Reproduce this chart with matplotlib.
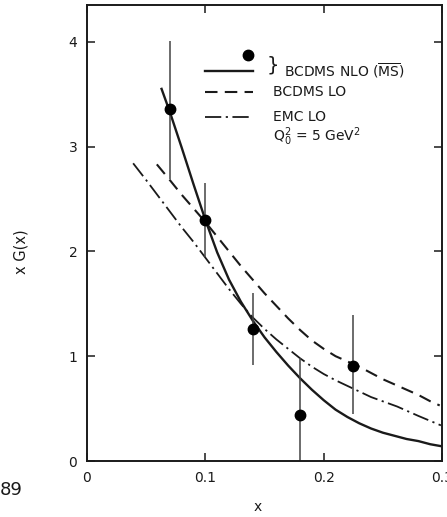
import matplotlib
matplotlib.use('Agg')
import matplotlib.pyplot as plt

# BCDMS data points (x, xG(x)) with error bar ends
x_pts = [0.070, 0.100, 0.140, 0.180, 0.225]
y_pts = [3.36, 2.30, 1.26, 0.44, 0.91]
err_lo = [2.69, 1.95, 0.92, 0.0, 0.45]
err_hi = [4.01, 2.65, 1.60, 0.98, 1.39]

# BCDMS NLO (MS-bar) curve
x_nlo = [0.063, 0.07, 0.08, 0.09, 0.10, 0.11, 0.12, 0.13, 0.14, 0.15, 0.16, 0.17,
         0.18, 0.19, 0.20, 0.21, 0.22, 0.23, 0.24, 0.25, 0.26, 0.27, 0.28, 0.29, 0.30]
y_nlo = [3.55, 3.33, 2.99, 2.64, 2.30, 1.99, 1.73, 1.52, 1.34, 1.18, 1.04, 0.91,
         0.79, 0.68, 0.58, 0.49, 0.42, 0.36, 0.31, 0.27, 0.24, 0.21, 0.19, 0.16, 0.14]

# BCDMS LO curve
x_lo = [0.059, 0.07, 0.08, 0.09, 0.10, 0.11, 0.12, 0.13, 0.14, 0.15, 0.16, 0.17,
        0.18, 0.19, 0.20, 0.21, 0.22, 0.23, 0.24, 0.25, 0.26, 0.27, 0.28, 0.29, 0.298]
y_lo = [2.83, 2.68, 2.54, 2.41, 2.28, 2.14, 2.00, 1.86, 1.73, 1.60, 1.48, 1.36,
        1.25, 1.15, 1.07, 1.00, 0.95, 0.90, 0.84, 0.78, 0.73, 0.68, 0.63, 0.57, 0.53]

# EMC LO curve
x_emc = [0.039, 0.05, 0.06, 0.07, 0.08, 0.09, 0.10, 0.11, 0.12, 0.13, 0.14, 0.15,
         0.16, 0.17, 0.18, 0.19, 0.20, 0.21, 0.225, 0.24, 0.262, 0.28, 0.299]
y_emc = [2.84, 2.68, 2.53, 2.38, 2.23, 2.09, 1.94, 1.79, 1.64, 1.50, 1.37, 1.26,
         1.16, 1.07, 0.98, 0.90, 0.83, 0.77, 0.69, 0.61, 0.52, 0.43, 0.34]

x_ticks = [0, 0.1, 0.2, 0.3]
x_ticklabels = ['0', '0.1', '0.2', '0.3']
y_ticks = [0, 1, 2, 3, 4]

plt.rcParams['font.family'] = ['DejaVu Sans']
ink = '#1a1a1a'

fig = plt.figure(figsize=(4.47, 5.17), dpi=100)
ax = fig.add_axes([0.1946, 0.1083, 0.7944, 0.882])

ax.plot(x_nlo, y_nlo, color=ink, lw=1.7)
ax.plot(x_lo, y_lo, color=ink, lw=1.5, dashes=(6, 3.5))
ax.plot(x_emc, y_emc, color=ink, lw=1.3, dashes=(9, 2.5, 1.2, 2.5))
ax.vlines(x_pts, err_lo, err_hi, color='#444444', lw=1.1)
ax.plot(x_pts, y_pts, 'o', color='black', ms=7.5)

ax.set_xlim(0, 0.3)
ax.set_ylim(0, 4.35)
ax.set_xticks(x_ticks)
ax.set_xticklabels(x_ticklabels)
ax.set_yticks(y_ticks)
ax.tick_params(direction='in', length=6, width=1.1, top=True, right=True,
               labelsize=10, colors=ink, pad=7)
for s in ax.spines.values():
    s.set_linewidth(1.4)
    s.set_color(ink)

ax.set_xlabel('x', fontsize=10, color=ink)
ax.xaxis.set_label_coords(0.48, -0.085)
ax.set_ylabel('x G(x)', fontsize=10.5, color=ink)
ax.yaxis.set_label_coords(-0.165, 0.46)

# hand-drawn legend block
T = ax.transAxes
ax.plot([0.332, 0.468], [0.856, 0.856], color=ink, lw=1.7, transform=T)
ax.plot([0.454], [0.890], 'o', color='black', ms=7.5, transform=T)
ax.text(0.505, 0.868, '}', fontsize=14, color=ink, transform=T, va='center', ha='left')
ax.text(0.555, 0.856, r'BCDMS NLO ($\overline{\mathrm{MS}}$)', fontsize=10, color=ink,
        transform=T, va='center')
ax.plot([0.332, 0.468], [0.810, 0.810], color=ink, lw=1.5, dashes=(6, 3.5), transform=T)
ax.text(0.524, 0.810, 'BCDMS LO', fontsize=10, color=ink, transform=T, va='center')
ax.plot([0.332, 0.468], [0.755, 0.755], color=ink, lw=1.3, dashes=(9, 2.5, 1.2, 2.5),
        transform=T)
ax.text(0.524, 0.755, 'EMC LO', fontsize=10, color=ink, transform=T, va='center')
ax.text(0.524, 0.712, r'$\mathrm{Q}_0^2$ = 5 GeV$^2$', fontsize=10, color=ink,
        transform=T, va='center')

fig.text(0.0, 0.052, '89', fontsize=13, color=ink, va='center')

fig.savefig('out.png', dpi=100)
